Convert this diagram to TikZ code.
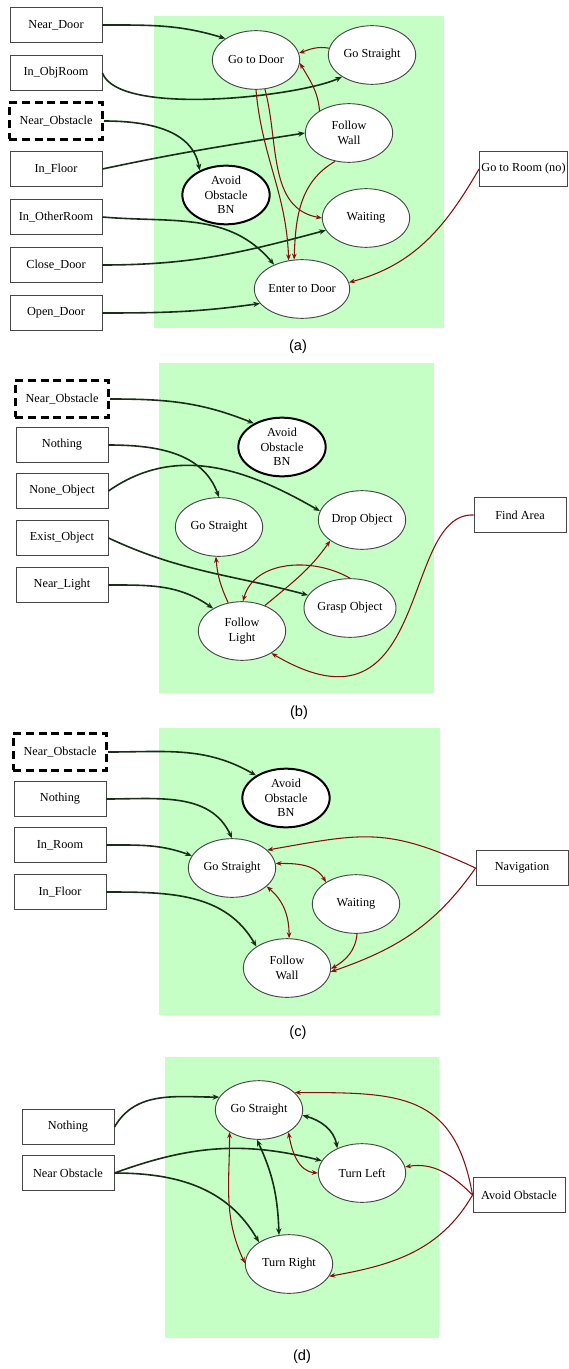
\documentclass[tikz,border=0pt]{standalone}
\usepackage{fontspec}
\setmainfont{Liberation Serif}
\newfontfamily\lblfont{Liberation Sans}
\usetikzlibrary{shapes.geometric,arrows.meta}
\definecolor{bgg}{RGB}{198,255,198}
\definecolor{blk}{RGB}{25,45,25}
\definecolor{redl}{RGB}{135,15,15}
\definecolor{bord}{RGB}{70,70,70}
\begin{document}
\begin{tikzpicture}[x=0.75pt,y=-0.75pt,font=\fontsize{9.2}{11}\selectfont,
  box/.style={draw=bord,line width=0.7pt,fill=white,minimum width=69pt,minimum height=26pt,inner sep=1pt},
  dbox/.style={box,draw=black,line width=2pt,dash pattern=on 6pt off 3.5pt,minimum width=70pt,minimum height=27.5pt},
  state/.style={ellipse,draw=bord,line width=0.7pt,fill=white,minimum width=65.5pt,minimum height=44pt,inner sep=0pt,align=center},
  bn/.style={state,draw=black,line width=1.5pt},
  ba/.style={draw=blk,line width=1.2pt,-{Stealth[length=5pt,width=4pt]}},
  bb/.style={draw=blk,line width=1.2pt,{Stealth[length=5pt,width=4pt]}-{Stealth[length=5pt,width=4pt]}},
  ra/.style={draw=redl,line width=0.8pt,-{Stealth[length=4.5pt,width=3.5pt]}},
  rb/.style={draw=redl,line width=0.8pt,{Stealth[length=4.5pt,width=3.5pt]}-{Stealth[length=4.5pt,width=3.5pt]}},
  lbl/.style={font=\lblfont\fontsize{11}{13}\selectfont}]
\useasboundingbox (0,0) rectangle (568,1369);
% green panels
\fill[bgg] (154,16) rectangle (444,328);
\fill[bgg] (159,363) rectangle (434,693);
\fill[bgg] (159,728) rectangle (440,1015);
\fill[bgg] (165,1057) rectangle (439,1338);

% ---------- (a) ----------
\node[box] (aND) at (56,25) {Near\_Door};
\node[box] (aOR) at (56,73) {In\_ObjRoom};
\node[dbox] (aNO) at (56,121) {Near\_Obstacle};
\node[box] (aIF) at (56,169) {In\_Floor};
\node[box] (aIO) at (56,217) {In\_OtherRoom};
\node[box] (aCD) at (56,265) {Close\_Door};
\node[box] (aOD) at (56,313) {Open\_Door};
\node[state] (aGD) at (256,60) {Go to Door};
\node[state] (aGS) at (372,55) {Go Straight};
\node[state] (aFW) at (349,133) {Follow\\Wall};
\node[bn] (aAO) at (226,195) {Avoid\\Obstacle\\BN};
\node[state] (aWT) at (366,218) {Waiting};
\node[state] (aED) at (302,289) {Enter to Door};
\node[box,minimum width=66pt] (aGR) at (523.5,169) {Go to Room (no)};
\node[lbl] (la) at (298,347) {(a)};

\draw[ba] (aND.east) to[out=0,in=163] (aGD.145);
\draw[ba] (aOR.east) to[out=-70,in=205,looseness=0.5] (aGS.216);
\draw[ba] (aNO.east) to[out=0,in=100] (aAO.137);
\draw[ba] (aIF.east) to[out=12,in=189] (aFW.west);
\draw[ba] (aIO.east) to[out=-5,in=130] (aED.139);
\draw[ba] (aCD.east) to[out=0,in=195] (aWT.197);
\draw[ba] (aOD.east) to[out=0,in=188] (aED.199);
\draw[ra] (aGS.171) to[out=170,in=20] (aGD.9);
\draw[ra] (aFW.143) to[out=95,in=-60] (aGD.-4);
\draw[ra] (aGD.-90) to[out=-85,in=92] (aED.115);
\draw[ra] (aGD.-73) to[out=-75,in=170] (aWT.180);
\draw[ra] (aFW.-116) to[out=-150,in=88] (aED.105);
\draw[ra] (aGR.west) to[out=240,in=15] (aED.8);

% ---------- (b) ----------
\node[dbox] (bNO) at (62,399) {Near\_Obstacle};
\node[box] (bNT) at (62,445) {Nothing};
\node[box] (bNB) at (62,491) {None\_Object};
\node[box] (bEO) at (62,538) {Exist\_Object};
\node[box] (bNL) at (62,585) {Near\_Light};
\node[bn] (bAO) at (282,447) {Avoid\\Obstacle\\BN};
\node[state] (bGS) at (219,527) {Go Straight};
\node[state] (bDO) at (362,520) {Drop Object};
\node[state] (bGO) at (350,608) {Grasp Object};
\node[state] (bFL) at (242,631) {Follow\\Light};
\node[box] (bFA) at (520,515) {Find Area};
\node[lbl] (lb) at (299,713) {(b)};

\draw[ba] (bNO.east) to[out=0,in=158] (bAO.140);
\draw[ba] (bNT.east) to[out=0,in=110] (bGS.90);
\draw[ba] (bNB.east) to[out=35,in=150] (bDO.168);
\draw[ba] (bEO.east) to[out=-25,in=165] (bGO.163);
\draw[ba] (bNL.east) to[out=0,in=145] (bFL.142);
\draw[ra] (bFL.116) to[out=115,in=-85] (bGS.-96);
\draw[ra] (bFL.48) to[out=40,in=235] (bDO.213);
\draw[ra] (bGO.90) to[out=150,in=75] (bFL.88);
\draw[ra] (bFA.west) .. controls (400,512) and (432,748) .. (bFL.-37);

% ---------- (c) ----------
\node[dbox] (cNO) at (60,752) {Near\_Obstacle};
\node[box] (cNT) at (60,799) {Nothing};
\node[box] (cIR) at (60,845) {In\_Room};
\node[box] (cIF) at (60,892) {In\_Floor};
\node[bn] (cAO) at (286,798) {Avoid\\Obstacle\\BN};
\node[state] (cGS) at (232,868) {Go Straight};
\node[state] (cWT) at (356,904) {Waiting};
\node[state] (cFW) at (287,968) {Follow\\Wall};
\node[box] (cNV) at (522,868) {Navigation};
\node[lbl] (lc) at (298,1033) {(c)};

\draw[ba] (cNO.east) to[out=0,in=150] (cAO.143);
\draw[ba] (cNT.east) to[out=0,in=115] (cGS.90);
\draw[ba] (cIR.east) to[out=0,in=160] (cGS.163);
\draw[ba] (cIF.east) to[out=0,in=120] (cFW.145);
\draw[ra] (cNV.west) to[out=155,in=10,looseness=1.2] (cGS.27);
\draw[ra] (cNV.west) to[out=235,in=19] (cFW.-5);
\draw[rb] (cGS.6) to[out=0,in=120] (cWT.144);
\draw[rb] (cGS.-28) to[out=-40,in=90] (cFW.86);
\draw[ra] (cWT.-88) to[out=-95,in=30] (cFW.-1);

% ---------- (d) ----------
\node[box] (dNT) at (68,1127) {Nothing};
\node[box] (dNB) at (68,1173) {Near Obstacle};
\node[state] (dGS) at (259,1110) {Go Straight};
\node[state] (dTL) at (362,1173) {Turn Left};
\node[state] (dTR) at (289,1264) {Turn Right};
\node[box] (dAO) at (519,1195) {Avoid Obstacle};
\node[lbl] (ld) at (302,1357) {(d)};

\draw[ba] (dNT.east) to[out=60,in=180] (dGS.162);
\draw[ba] (dNB.east) to[out=20,in=166] (dTL.163);
\draw[ba] (dNB.east) to[out=0,in=120] (dTR.144);
\draw[bb] (dGS.-94) to[out=-65,in=92] (dTR.109);
\draw[bb] (dGS.-7) to[out=-15,in=100] (dTL.135);
\draw[rb] (dGS.217) to[out=-90,in=115] (dTR.179);
\draw[rb] (dGS.-37) to[out=-80,in=175] (dTL.180);
\draw[ra] (dAO.west) to[out=100,in=0,looseness=1.3] (dGS.26);
\draw[ra] (dAO.west) to[out=135,in=10] (dTL.8);
\draw[ra] (dAO.west) to[out=240,in=10] (dTR.-17);
\end{tikzpicture}
\end{document}
